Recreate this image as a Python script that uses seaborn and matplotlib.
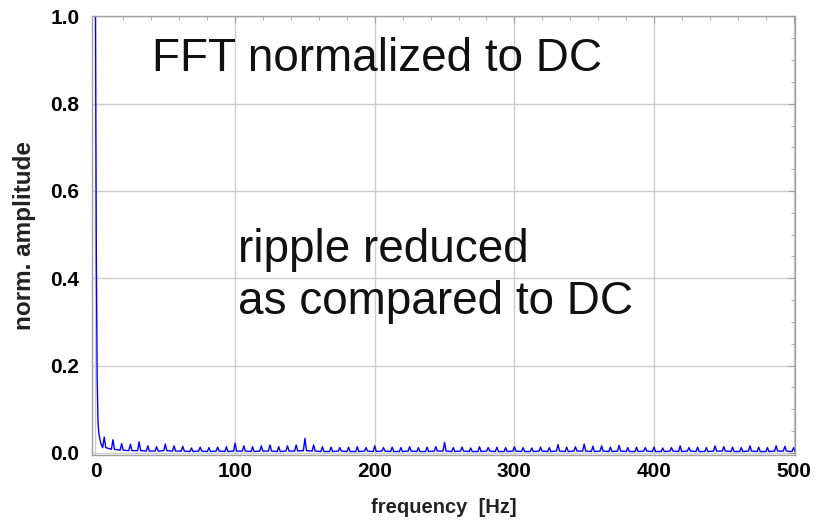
import numpy as np
import pandas as pd
import matplotlib
matplotlib.use("Agg")
import matplotlib.pyplot as plt
import seaborn as sns
from matplotlib.ticker import MultipleLocator

# ---- data ----
head_freq = [0.0, 0.6, 1.2, 1.8, 2.4, 3.1, 4.0]
head_amp = [1.0, 0.45, 0.17, 0.07, 0.045, 0.032, 0.02]

# spectral lines every 6.25 Hz (6.25 ... 500 Hz)
peak_amp = [0.036, 0.030, 0.021, 0.020, 0.025, 0.016, 0.014, 0.020, 0.016, 0.015,
            0.011, 0.013, 0.012, 0.013, 0.014, 0.022, 0.016, 0.014, 0.016, 0.018,
            0.014, 0.016, 0.018, 0.033, 0.018, 0.014, 0.013, 0.012, 0.013, 0.014,
            0.012, 0.016, 0.012, 0.013, 0.012, 0.014, 0.012, 0.013, 0.014, 0.024,
            0.012, 0.013, 0.011, 0.014, 0.012, 0.013, 0.012, 0.014, 0.012, 0.011,
            0.013, 0.012, 0.019, 0.013, 0.014, 0.020, 0.015, 0.016, 0.013, 0.017,
            0.012, 0.013, 0.012, 0.013, 0.011, 0.012, 0.016, 0.012, 0.013, 0.012,
            0.016, 0.014, 0.013, 0.012, 0.016, 0.013, 0.012, 0.016, 0.015, 0.012]

# noise floor around each line
floor_amp = [0.012, 0.008, 0.006, 0.005, 0.005, 0.004, 0.004, 0.005, 0.004, 0.004,
             0.003, 0.004, 0.003, 0.004, 0.003, 0.004, 0.004, 0.003, 0.004, 0.004,
             0.003, 0.004, 0.004, 0.005, 0.004, 0.003, 0.003, 0.004, 0.003, 0.003,
             0.004, 0.003, 0.004, 0.003, 0.003, 0.004, 0.003, 0.003, 0.004, 0.004,
             0.003, 0.004, 0.003, 0.003, 0.004, 0.003, 0.003, 0.004, 0.003, 0.003,
             0.004, 0.003, 0.004, 0.003, 0.004, 0.004, 0.003, 0.004, 0.003, 0.004,
             0.003, 0.003, 0.004, 0.003, 0.003, 0.004, 0.003, 0.004, 0.003, 0.003,
             0.004, 0.004, 0.003, 0.003, 0.004, 0.003, 0.003, 0.004, 0.004, 0.003]

line_step = 6.25
line_halfwidth = 1.1
x_ticks = [0, 100, 200, 300, 400, 500]
y_ticks = [0.0, 0.2, 0.4, 0.6, 0.8, 1.0]
title_text = "FFT normalized to DC"
note_lines = ["ripple reduced", "as compared to DC"]
x_label = "frequency  [Hz]"
y_label = "norm. amplitude"

# build table: head, then narrow spectral lines on the noise floor
freqs = list(head_freq)
amps = list(head_amp)
for k in range(len(peak_amp)):
    fk = line_step * (k + 1)
    freqs += [fk - line_halfwidth, fk, fk + line_halfwidth]
    amps += [floor_amp[k], peak_amp[k], floor_amp[k]]
df = pd.DataFrame({"freq": freqs, "amp": amps})

# ---- plot ----
sns.set_theme(style="white")
plt.rcParams["font.family"] = ["Liberation Sans", "DejaVu Sans"]

fig = plt.figure(figsize=(8.28, 5.26), dpi=100)
ax = fig.add_axes([92 / 828, 1 - 455 / 526, (795 - 92) / 828, (455 - 16) / 526])

sns.lineplot(data=df, x="freq", y="amp", color="#0000ff", linewidth=1.0,
             ax=ax, sort=False)

ax.set_xlim(-2.5, 501)
ax.set_ylim(-0.005, 1.001)
ax.set_xticks(x_ticks)
ax.set_yticks(y_ticks)
ax.set_xticklabels([str(v) for v in x_ticks])
ax.set_yticklabels([f"{v:.1f}" for v in y_ticks])
ax.xaxis.set_minor_locator(MultipleLocator(20))
ax.yaxis.set_minor_locator(MultipleLocator(0.05))

frame_col = "#a0a0a0"
ax.grid(True, which="major", color="#cccccc", linewidth=1.0)
for s in ax.spines.values():
    s.set_color(frame_col)
    s.set_linewidth(1.0)
ax.tick_params(which="both", direction="in", top=True, right=True,
               color=frame_col, labelsize=15, labelcolor="black")
ax.tick_params(which="major", length=5, width=0.8)
ax.tick_params(axis="y", which="major", pad=9)
ax.tick_params(axis="x", which="major", pad=5)
ax.tick_params(which="minor", length=3, width=0.6)
for lab in ax.get_xticklabels() + ax.get_yticklabels():
    lab.set_fontweight("bold")

ax.set_xlabel(x_label, fontsize=14.5, fontweight="bold", color="#222222", labelpad=12)
ax.set_ylabel(y_label, fontsize=17.5, fontweight="bold", color="#222222", labelpad=10)

fig.text(152 / 828, 1 - 71 / 526, title_text, fontsize=33, color="#111111",
         ha="left", va="baseline")
fig.text(238 / 828, 1 - 262 / 526, note_lines[0], fontsize=33, color="#111111",
         ha="left", va="baseline")
fig.text(238 / 828, 1 - 314 / 526, note_lines[1], fontsize=33, color="#111111",
         ha="left", va="baseline")

fig.savefig("out.png", dpi=100)
